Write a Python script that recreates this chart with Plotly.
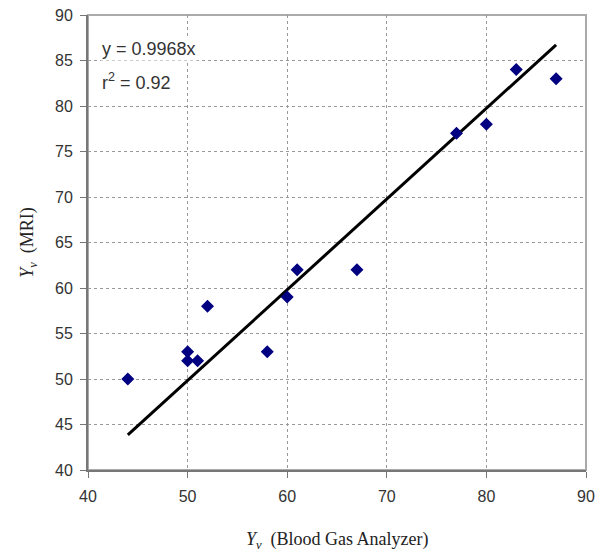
import plotly.graph_objects as go

x_vals = [44, 50, 50, 51, 52, 58, 60, 61, 67, 77, 80, 83, 87]
y_vals = [50, 53, 52, 52, 58, 53, 59, 62, 62, 77, 78, 84, 83]
slope = 0.9968
fit_x = [44, 87]
fit_y = [slope * v for v in fit_x]
tick_vals_x = [40, 50, 60, 70, 80, 90]
tick_vals_y = [40, 45, 50, 55, 60, 65, 70, 75, 80, 85, 90]

fig = go.Figure()
fig.add_trace(go.Scatter(x=fit_x, y=fit_y, mode="lines",
                         line=dict(color="black", width=3), showlegend=False))
fig.add_trace(go.Scatter(x=x_vals, y=y_vals, mode="markers",
                         marker=dict(symbol="diamond", size=10, color="#000080"),
                         showlegend=False))

axis_common = dict(showline=True, linecolor="#777777", linewidth=2, mirror=False,
                   showgrid=True, gridcolor="#999999", griddash="dot", gridwidth=1,
                   zeroline=False, ticks="outside", ticklen=6, tickcolor="#777777",
                   automargin=False,
                   tickfont=dict(family="Liberation Sans, Arial", size=16, color="#333333"))

fig.update_xaxes(range=[40, 90], tickvals=tick_vals_x, ticklabelstandoff=5, **axis_common)
fig.update_yaxes(range=[40, 90], tickvals=tick_vals_y, ticklabelstandoff=4, **axis_common)

# light frame top/right
fig.add_shape(type="rect", xref="paper", yref="paper", x0=0, y0=0, x1=1, y1=1,
              line=dict(color="#aaaaaa", width=2), layer="below")

fig.add_annotation(xref="paper", yref="paper", x=0.025, y=0.925, xanchor="left", yanchor="middle",
                   text="y = 0.9968x", showarrow=False, bgcolor="white",
                   font=dict(family="Liberation Sans, Arial", size=18, color="#333333"))
fig.add_annotation(xref="paper", yref="paper", x=0.025, y=0.853, xanchor="left", yanchor="middle",
                   text="r<sup>2</sup> = 0.92", showarrow=False, bgcolor="white",
                   font=dict(family="Liberation Sans, Arial", size=18, color="#333333"))

fig.add_annotation(xref="paper", yref="paper", x=-0.12, y=0.5, textangle=-90,
                   xanchor="center", yanchor="middle", showarrow=False,
                   text="<i>Y<sub>v</sub></i>  (MRI)",
                   font=dict(family="Liberation Serif, Times New Roman", size=18, color="#222222"))
fig.add_annotation(xref="paper", yref="paper", x=0.5, y=-0.155,
                   xanchor="center", yanchor="middle", showarrow=False,
                   text="<i>Y<sub>v</sub></i>  (Blood Gas Analyzer)",
                   font=dict(family="Liberation Serif, Times New Roman", size=18, color="#222222"))

fig.update_layout(width=602, height=558, margin=dict(l=88, r=16, t=15, b=88),
                  plot_bgcolor="white", paper_bgcolor="white")

fig.write_html("out.html", config={"displayModeBar": False},
               post_script="document.body.style.margin='0px';document.body.style.overflow='hidden';")
